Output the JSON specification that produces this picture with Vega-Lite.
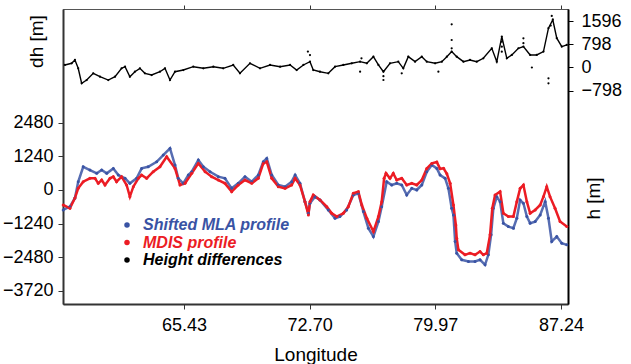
{
  "$schema": "https://vega.github.io/schema/vega-lite/v6.json",
  "width": 505,
  "height": 295,
  "autosize": {"type": "none"},
  "padding": {"left": 63, "top": 9, "right": 63, "bottom": 60},
  "background": "white",
  "config": {
    "font": "Liberation Sans",
    "view": {"stroke": "#555555", "strokeWidth": 1},
    "axis": {"grid": false, "labelColor": "#000000", "titleColor": "#000000", "labelFont": "Liberation Sans", "titleFont": "Liberation Sans", "titleFontWeight": "normal"}
  },
  "datasets": {
    "mla": [
      {"lon": 58.44, "h": -736}, {"lon": 58.83, "h": -614}, {"lon": 59.12, "h": -300}, {"lon": 59.31, "h": 300},
      {"lon": 59.60, "h": 857}, {"lon": 59.99, "h": 736}, {"lon": 60.38, "h": 614}, {"lon": 60.67, "h": 736},
      {"lon": 60.96, "h": 614}, {"lon": 61.34, "h": 797}, {"lon": 61.63, "h": 552}, {"lon": 62.02, "h": 430},
      {"lon": 62.30, "h": 245}, {"lon": 62.69, "h": 430}, {"lon": 62.98, "h": 797}, {"lon": 63.36, "h": 857},
      {"lon": 63.85, "h": 1041}, {"lon": 64.23, "h": 1288}, {"lon": 64.62, "h": 1534}, {"lon": 64.91, "h": 920},
      {"lon": 65.10, "h": 430}, {"lon": 65.39, "h": 245}, {"lon": 65.68, "h": 550}, {"lon": 65.88, "h": 675},
      {"lon": 66.26, "h": 1104}, {"lon": 66.55, "h": 857}, {"lon": 66.94, "h": 675}, {"lon": 67.42, "h": 491},
      {"lon": 67.80, "h": 430}, {"lon": 68.19, "h": 60}, {"lon": 68.57, "h": 245}, {"lon": 68.96, "h": 491},
      {"lon": 69.35, "h": 307}, {"lon": 69.73, "h": 552}, {"lon": 70.02, "h": 1041}, {"lon": 70.22, "h": 1165},
      {"lon": 70.51, "h": 552}, {"lon": 70.89, "h": 184}, {"lon": 71.28, "h": 123}, {"lon": 71.66, "h": 307},
      {"lon": 71.86, "h": 552}, {"lon": 72.14, "h": 245}, {"lon": 72.43, "h": -430}, {"lon": 72.63, "h": -858},
      {"lon": 72.72, "h": -490}, {"lon": 73.01, "h": -245}, {"lon": 73.30, "h": -368}, {"lon": 73.78, "h": -736},
      {"lon": 74.17, "h": -1041}, {"lon": 74.45, "h": -982}, {"lon": 74.84, "h": -736}, {"lon": 75.23, "h": -184},
      {"lon": 75.52, "h": -123}, {"lon": 75.81, "h": -798}, {"lon": 76.10, "h": -1410}, {"lon": 76.39, "h": -1718},
      {"lon": 76.68, "h": -1165}, {"lon": 76.87, "h": -614}, {"lon": 77.16, "h": 307}, {"lon": 77.45, "h": 184},
      {"lon": 77.74, "h": 245}, {"lon": 78.03, "h": 184}, {"lon": 78.32, "h": -184}, {"lon": 78.61, "h": 60},
      {"lon": 78.90, "h": 0}, {"lon": 79.19, "h": 184}, {"lon": 79.48, "h": 675}, {"lon": 79.77, "h": 920},
      {"lon": 80.06, "h": 797}, {"lon": 80.25, "h": 552}, {"lon": 80.54, "h": 430}, {"lon": 80.73, "h": 60},
      {"lon": 80.92, "h": -675}, {"lon": 81.02, "h": -920}, {"lon": 81.12, "h": -1900}, {"lon": 81.21, "h": -2330},
      {"lon": 81.50, "h": -2576}, {"lon": 81.89, "h": -2638}, {"lon": 82.27, "h": -2638}, {"lon": 82.56, "h": -2576},
      {"lon": 82.85, "h": -2760}, {"lon": 83.04, "h": -2392}, {"lon": 83.20, "h": -1656}, {"lon": 83.33, "h": -675},
      {"lon": 83.53, "h": -245}, {"lon": 83.72, "h": -430}, {"lon": 83.91, "h": -1226}, {"lon": 84.20, "h": -1350},
      {"lon": 84.49, "h": -1410}, {"lon": 84.69, "h": -1041}, {"lon": 84.88, "h": -368}, {"lon": 85.07, "h": -490},
      {"lon": 85.27, "h": -982}, {"lon": 85.46, "h": -1226}, {"lon": 85.75, "h": -1165}, {"lon": 86.04, "h": -920},
      {"lon": 86.33, "h": -430}, {"lon": 86.52, "h": -1041}, {"lon": 86.71, "h": -1900}, {"lon": 87.00, "h": -1718},
      {"lon": 87.29, "h": -1962}, {"lon": 87.58, "h": -2024}
    ],
    "mdis": [
      {"lon": 58.44, "h": -552}, {"lon": 58.83, "h": -675}, {"lon": 59.12, "h": -300}, {"lon": 59.31, "h": 60},
      {"lon": 59.60, "h": 307}, {"lon": 59.99, "h": 430}, {"lon": 60.28, "h": 430}, {"lon": 60.47, "h": 245},
      {"lon": 60.67, "h": 368}, {"lon": 60.86, "h": 184}, {"lon": 61.15, "h": 430}, {"lon": 61.34, "h": 491},
      {"lon": 61.53, "h": 307}, {"lon": 61.82, "h": 491}, {"lon": 62.11, "h": 184}, {"lon": 62.30, "h": -245},
      {"lon": 62.50, "h": 123}, {"lon": 62.79, "h": 430}, {"lon": 62.98, "h": 552}, {"lon": 63.27, "h": 430},
      {"lon": 63.65, "h": 675}, {"lon": 64.04, "h": 857}, {"lon": 64.43, "h": 1226}, {"lon": 64.91, "h": 797},
      {"lon": 65.20, "h": 184}, {"lon": 65.49, "h": 245}, {"lon": 65.88, "h": 614}, {"lon": 66.26, "h": 981},
      {"lon": 66.65, "h": 675}, {"lon": 67.03, "h": 491}, {"lon": 67.42, "h": 368}, {"lon": 67.80, "h": 245},
      {"lon": 68.19, "h": -61}, {"lon": 68.57, "h": 184}, {"lon": 68.96, "h": 368}, {"lon": 69.35, "h": 245},
      {"lon": 69.73, "h": 430}, {"lon": 70.02, "h": 981}, {"lon": 70.22, "h": 1041}, {"lon": 70.51, "h": 430},
      {"lon": 70.89, "h": 123}, {"lon": 71.28, "h": 60}, {"lon": 71.66, "h": 184}, {"lon": 71.86, "h": 430},
      {"lon": 72.14, "h": 184}, {"lon": 72.43, "h": -430}, {"lon": 72.63, "h": -920}, {"lon": 72.72, "h": -430},
      {"lon": 72.91, "h": -184}, {"lon": 73.30, "h": -368}, {"lon": 73.69, "h": -614}, {"lon": 73.98, "h": -858},
      {"lon": 74.27, "h": -982}, {"lon": 74.65, "h": -858}, {"lon": 74.94, "h": -614}, {"lon": 75.23, "h": -123},
      {"lon": 75.52, "h": -61}, {"lon": 75.72, "h": -552}, {"lon": 76.01, "h": -1041}, {"lon": 76.39, "h": -1534},
      {"lon": 76.68, "h": -982}, {"lon": 76.87, "h": -430}, {"lon": 77.01, "h": 430}, {"lon": 77.12, "h": 614},
      {"lon": 77.35, "h": 430}, {"lon": 77.54, "h": 614}, {"lon": 77.74, "h": 368}, {"lon": 78.03, "h": 430},
      {"lon": 78.32, "h": 184}, {"lon": 78.61, "h": 245}, {"lon": 78.90, "h": 184}, {"lon": 79.19, "h": 368},
      {"lon": 79.48, "h": 797}, {"lon": 79.77, "h": 981}, {"lon": 80.06, "h": 1030}, {"lon": 80.25, "h": 780},
      {"lon": 80.45, "h": 800}, {"lon": 80.64, "h": 600}, {"lon": 80.83, "h": 245}, {"lon": 81.02, "h": -552},
      {"lon": 81.16, "h": -1288}, {"lon": 81.21, "h": -1778}, {"lon": 81.31, "h": -2208}, {"lon": 81.69, "h": -2392},
      {"lon": 81.98, "h": -2330}, {"lon": 82.27, "h": -2392}, {"lon": 82.56, "h": -2270}, {"lon": 82.75, "h": -2392},
      {"lon": 82.95, "h": -2330}, {"lon": 83.14, "h": -1656}, {"lon": 83.27, "h": -675}, {"lon": 83.43, "h": -184},
      {"lon": 83.72, "h": -61}, {"lon": 83.91, "h": -858}, {"lon": 84.20, "h": -982}, {"lon": 84.49, "h": -982},
      {"lon": 84.69, "h": -430}, {"lon": 84.88, "h": 60}, {"lon": 85.07, "h": 184}, {"lon": 85.27, "h": -430},
      {"lon": 85.46, "h": -858}, {"lon": 85.75, "h": -736}, {"lon": 86.04, "h": -552}, {"lon": 86.23, "h": -245},
      {"lon": 86.42, "h": 123}, {"lon": 86.61, "h": -245}, {"lon": 86.90, "h": -675}, {"lon": 87.19, "h": -1165},
      {"lon": 87.58, "h": -1350}
    ],
    "dh": [
      {"lon": 58.54, "dh": 87}, {"lon": 58.93, "dh": 146}, {"lon": 59.12, "dh": 260}, {"lon": 59.31, "dh": -28},
      {"lon": 59.51, "dh": -548}, {"lon": 59.80, "dh": -434}, {"lon": 60.18, "dh": -201}, {"lon": 60.57, "dh": -319},
      {"lon": 61.05, "dh": -434}, {"lon": 61.44, "dh": -319}, {"lon": 61.82, "dh": -28}, {"lon": 62.02, "dh": 28},
      {"lon": 62.30, "dh": -319}, {"lon": 62.59, "dh": -146}, {"lon": 62.88, "dh": -28}, {"lon": 63.17, "dh": -201},
      {"lon": 63.56, "dh": -260}, {"lon": 64.04, "dh": -146}, {"lon": 64.33, "dh": -28}, {"lon": 64.62, "dh": -434},
      {"lon": 64.91, "dh": -146}, {"lon": 65.39, "dh": -87}, {"lon": 65.97, "dh": 28}, {"lon": 66.55, "dh": -28},
      {"lon": 67.13, "dh": 28}, {"lon": 67.70, "dh": -28}, {"lon": 68.28, "dh": 87}, {"lon": 68.67, "dh": -201},
      {"lon": 69.25, "dh": 146}, {"lon": 69.83, "dh": -28}, {"lon": 70.41, "dh": 87}, {"lon": 70.99, "dh": 28},
      {"lon": 71.57, "dh": 87}, {"lon": 71.95, "dh": -87}, {"lon": 72.34, "dh": 87}, {"lon": 72.72, "dh": 201},
      {"lon": 72.91, "dh": -87}, {"lon": 73.30, "dh": -146}, {"lon": 73.78, "dh": -201}, {"lon": 74.17, "dh": 28},
      {"lon": 74.65, "dh": 87}, {"lon": 75.14, "dh": 146}, {"lon": 75.62, "dh": 201}, {"lon": 76.01, "dh": 146},
      {"lon": 76.39, "dh": 375}, {"lon": 76.68, "dh": 87}, {"lon": 76.97, "dh": -146}, {"lon": 77.35, "dh": 146},
      {"lon": 77.83, "dh": 201}, {"lon": 78.12, "dh": -28}, {"lon": 78.41, "dh": 375}, {"lon": 78.80, "dh": 201},
      {"lon": 79.19, "dh": 375}, {"lon": 79.48, "dh": 201}, {"lon": 79.96, "dh": 146}, {"lon": 80.35, "dh": 201},
      {"lon": 80.64, "dh": 375}, {"lon": 80.92, "dh": 549}, {"lon": 81.21, "dh": 375}, {"lon": 81.60, "dh": 201},
      {"lon": 81.98, "dh": 260}, {"lon": 82.37, "dh": 201}, {"lon": 82.75, "dh": 318}, {"lon": 83.24, "dh": 665},
      {"lon": 83.53, "dh": 201}, {"lon": 83.82, "dh": 1068}, {"lon": 84.11, "dh": 318}, {"lon": 84.40, "dh": 434},
      {"lon": 84.78, "dh": 665}, {"lon": 85.07, "dh": 723}, {"lon": 85.46, "dh": 434}, {"lon": 85.84, "dh": 434},
      {"lon": 86.23, "dh": 549}, {"lon": 86.52, "dh": 1360}, {"lon": 86.77, "dh": 1650}, {"lon": 87.00, "dh": 1013},
      {"lon": 87.29, "dh": 723}, {"lon": 87.58, "dh": 781}
    ],
    "dh_scatter": [
      {"lon": 72.60, "dh": 549}, {"lon": 72.72, "dh": 430}, {"lon": 75.62, "dh": -145}, {"lon": 75.70, "dh": 318},
      {"lon": 76.97, "dh": -432}, {"lon": 76.97, "dh": -300}, {"lon": 78.03, "dh": -200}, {"lon": 80.15, "dh": -145},
      {"lon": 80.92, "dh": 1492}, {"lon": 80.92, "dh": 950}, {"lon": 80.92, "dh": 663}, {"lon": 83.82, "dh": 891},
      {"lon": 83.82, "dh": 719}, {"lon": 83.82, "dh": 546}, {"lon": 85.07, "dh": 1009}, {"lon": 85.07, "dh": 839},
      {"lon": 85.56, "dh": 0}, {"lon": 86.52, "dh": -373}, {"lon": 86.52, "dh": -546}, {"lon": 86.65, "dh": 1450},
      {"lon": 86.71, "dh": 1780}
    ]
  },
  "layer": [
    {
      "encoding": {
        "x": {
          "field": "lon", "type": "quantitative",
          "scale": {"domain": [58.43, 87.65], "nice": false, "zero": false},
          "axis": {
            "orient": "bottom", "values": [65.43, 72.70, 79.97, 87.24], "format": ".2f",
            "labelFontSize": 18, "tickSize": 5, "tickColor": "#333333", "labelPadding": 7,
            "domainColor": "#333333", "domainWidth": 2,
            "title": "Longitude", "titleFontSize": 19, "titleX": 252.5, "titleY": 56,
            "titleAlign": "center", "titleBaseline": "alphabetic"
          }
        },
        "y": {
          "field": "h", "type": "quantitative",
          "scale": {"domain": [-4207, 6679], "nice": false, "zero": false},
          "axis": {
            "orient": "left", "values": [2480, 1240, 0, -1240, -2480, -3720], "format": "d",
            "labelFontSize": 18, "tickSize": 5, "tickColor": "#333333", "labelPadding": 5,
            "domainColor": "#333333", "domainWidth": 2,
            "title": "dh [m]", "titleFontSize": 19, "titleAngle": -90, "titleX": -27, "titleY": 32,
            "titleAlign": "center", "titleBaseline": "middle"
          }
        }
      },
      "layer": [
        {"data": {"name": "mla"}, "mark": {"type": "line", "color": "#3953a4", "strokeWidth": 2.5, "opacity": 0.85}},
        {"data": {"name": "mdis"}, "mark": {"type": "line", "color": "#ec1c24", "strokeWidth": 2.5}},
        {
          "data": {"name": "mla"},
          "mark": {"type": "point", "filled": true, "size": 9, "opacity": 1},
          "encoding": {
            "color": {
              "datum": "Shifted MLA profile", "type": "nominal",
              "scale": {"domain": ["Shifted MLA profile", "MDIS profile", "Height differences"], "range": ["#3953a4", "#ec1c24", "#000000"]},
              "legend": {
                "orient": "none", "legendX": 56, "legendY": 208, "title": null, "padding": 0,
                "symbolType": "circle", "symbolSize": 30, "symbolStrokeWidth": 0,
                "labelFontSize": 16, "labelFontStyle": "italic", "labelFontWeight": "bold", "labelFont": "Liberation Sans",
                "labelOffset": 8, "rowPadding": 1.5, "labelLimit": 300,
                "encoding": {
                  "labels": {
                    "fill": {
                      "condition": [
                        {"test": "datum.value === 'Shifted MLA profile'", "value": "#3953a4"},
                        {"test": "datum.value === 'MDIS profile'", "value": "#ec1c24"}
                      ],
                      "value": "#000000"
                    }
                  }
                }
              }
            }
          }
        },
        {
          "data": {"name": "mdis"},
          "mark": {"type": "point", "filled": true, "size": 9, "opacity": 1},
          "encoding": {"color": {"datum": "MDIS profile", "type": "nominal"}}
        }
      ]
    },
    {
      "encoding": {
        "y": {
          "field": "dh", "type": "quantitative",
          "scale": {"domain": [-8171, 2021], "nice": false, "zero": false},
          "axis": {
            "orient": "right", "values": [1596, 798, 0, -798], "format": "d",
            "labelFontSize": 18, "tickSize": 5, "tickColor": "#000000", "labelPadding": 8,
            "domainColor": "#000000", "domainWidth": 2,
            "title": "h [m]", "titleFontSize": 19, "titleAngle": -90, "titleX": 25, "titleY": 189,
            "titleAlign": "center", "titleBaseline": "middle"
          }
        }
      },
      "layer": [
        {
          "data": {"values": [{}]},
          "mark": {"type": "rule", "color": "#000000", "strokeWidth": 1.5},
          "encoding": {"y": {"datum": 0, "type": "quantitative"}}
        },
        {
          "data": {"name": "dh"},
          "mark": {"type": "line", "color": "#000000", "strokeWidth": 1.4},
          "encoding": {
            "x": {"field": "lon", "type": "quantitative", "scale": {"domain": [58.43, 87.65], "nice": false, "zero": false},
              "axis": {"orient": "top", "values": [65.43, 72.70, 79.97, 87.24], "labels": false, "tickSize": 4, "tickColor": "#333333", "domainColor": "#555555", "domainWidth": 1, "title": null}}
          }
        },
        {
          "data": {"name": "dh"},
          "mark": {"type": "point", "filled": true, "size": 5, "opacity": 1},
          "encoding": {
            "x": {"field": "lon", "type": "quantitative"},
            "color": {"datum": "Height differences", "type": "nominal"}
          }
        },
        {
          "data": {"name": "dh_scatter"},
          "mark": {"type": "point", "filled": true, "size": 5, "opacity": 1},
          "encoding": {
            "x": {"field": "lon", "type": "quantitative"},
            "color": {"datum": "Height differences", "type": "nominal"}
          }
        }
      ]
    }
  ],
  "resolve": {"scale": {"y": "independent"}, "axis": {"x": "independent"}}
}
